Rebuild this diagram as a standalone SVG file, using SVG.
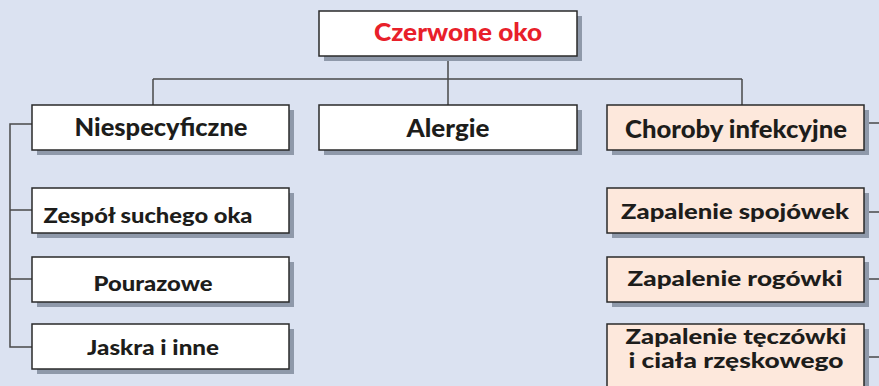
<svg xmlns="http://www.w3.org/2000/svg" width="879" height="386" viewBox="0 0 879 386">
<defs>
<style>
.bg{fill:#dbe2f1}
.sh{fill:#8f99aa}
.box{fill:#ffffff;stroke:#2a2a2a;stroke-width:1.5}
.pink{fill:#fde8dc;stroke:#2a2a2a;stroke-width:1.5}
.t1{font-family:Lato,"DejaVu Sans",sans-serif;font-weight:900;font-size:24px;fill:#1d1d1b;text-anchor:middle}
.t2{font-family:Lato,"DejaVu Sans",sans-serif;font-weight:900;font-size:20px;fill:#1d1d1b;text-anchor:middle}
.red{fill:#e8202a}
.ln{fill:none;stroke:#4a4a4a;stroke-width:1.5}
</style>
</defs>
<rect class="bg" x="0" y="0" width="879" height="386"/>
<g id="connectors">
<path class="ln" d="M448,56 V105 M153,79 H742 M153,79 V105 M742,79 V105"/>
<path class="ln" d="M32,124 H10 V347 H32 M10,210 H32 M10,279 H32"/>
<path class="ln" d="M864,123 H879 M864,212 H879 M864,279 H879 M864,357 H879"/>
</g>
<g id="czerwone-oko">
<rect class="sh" x="324" y="16" width="258" height="45"/>
<rect class="box" x="319" y="11" width="258" height="45"/>
<text class="t1 red" x="458" y="41" textLength="168" lengthAdjust="spacingAndGlyphs">Czerwone oko</text>
</g>
<g id="niespecyficzne">
<rect class="sh" x="37" y="110" width="257" height="45"/>
<rect class="box" x="32" y="105" width="257" height="45"/>
<text class="t1" x="161" y="136" textLength="173" lengthAdjust="spacingAndGlyphs">Niespecyficzne</text>
</g>
<g id="alergie">
<rect class="sh" x="324" y="110" width="258" height="45"/>
<rect class="box" x="319" y="105" width="258" height="45"/>
<text class="t1" x="448" y="137" textLength="83" lengthAdjust="spacingAndGlyphs">Alergie</text>
</g>
<g id="choroby-infekcyjne">
<rect class="sh" x="612" y="110" width="257" height="45"/>
<rect class="pink" x="607" y="105" width="257" height="45"/>
<text class="t1" x="736" y="138" textLength="222" lengthAdjust="spacingAndGlyphs">Choroby infekcyjne</text>
</g>
<g id="zespol">
<rect class="sh" x="37" y="193" width="257" height="45"/>
<rect class="box" x="32" y="188" width="257" height="45"/>
<text class="t2" x="148" y="223" textLength="209" lengthAdjust="spacingAndGlyphs">Zespół suchego oka</text>
</g>
<g id="pourazowe">
<rect class="sh" x="37" y="262" width="257" height="45"/>
<rect class="box" x="32" y="257" width="257" height="45"/>
<text class="t2" x="153" y="291" textLength="119" lengthAdjust="spacingAndGlyphs">Pourazowe</text>
</g>
<g id="jaskra">
<rect class="sh" x="37" y="329" width="257" height="45"/>
<rect class="box" x="32" y="324" width="257" height="45"/>
<text class="t2" x="153" y="355" textLength="132" lengthAdjust="spacingAndGlyphs">Jaskra i inne</text>
</g>
<g id="spojowek">
<rect class="sh" x="612" y="193" width="257" height="45"/>
<rect class="pink" x="607" y="188" width="257" height="45"/>
<text class="t2" x="735" y="219" textLength="228" lengthAdjust="spacingAndGlyphs">Zapalenie spojówek</text>
</g>
<g id="rogowki">
<rect class="sh" x="612" y="262" width="257" height="45"/>
<rect class="pink" x="607" y="257" width="257" height="45"/>
<text class="t2" x="735" y="286" textLength="215" lengthAdjust="spacingAndGlyphs">Zapalenie rogówki</text>
</g>
<g id="teczowki">
<rect class="sh" x="612" y="329" width="257" height="70"/>
<rect class="pink" x="607" y="324" width="257" height="70"/>
<text class="t2" x="736" y="344" textLength="221" lengthAdjust="spacingAndGlyphs">Zapalenie tęczówki</text>
<text class="t2" x="736" y="368" textLength="215" lengthAdjust="spacingAndGlyphs">i ciała rzęskowego</text>
</g>
</svg>
